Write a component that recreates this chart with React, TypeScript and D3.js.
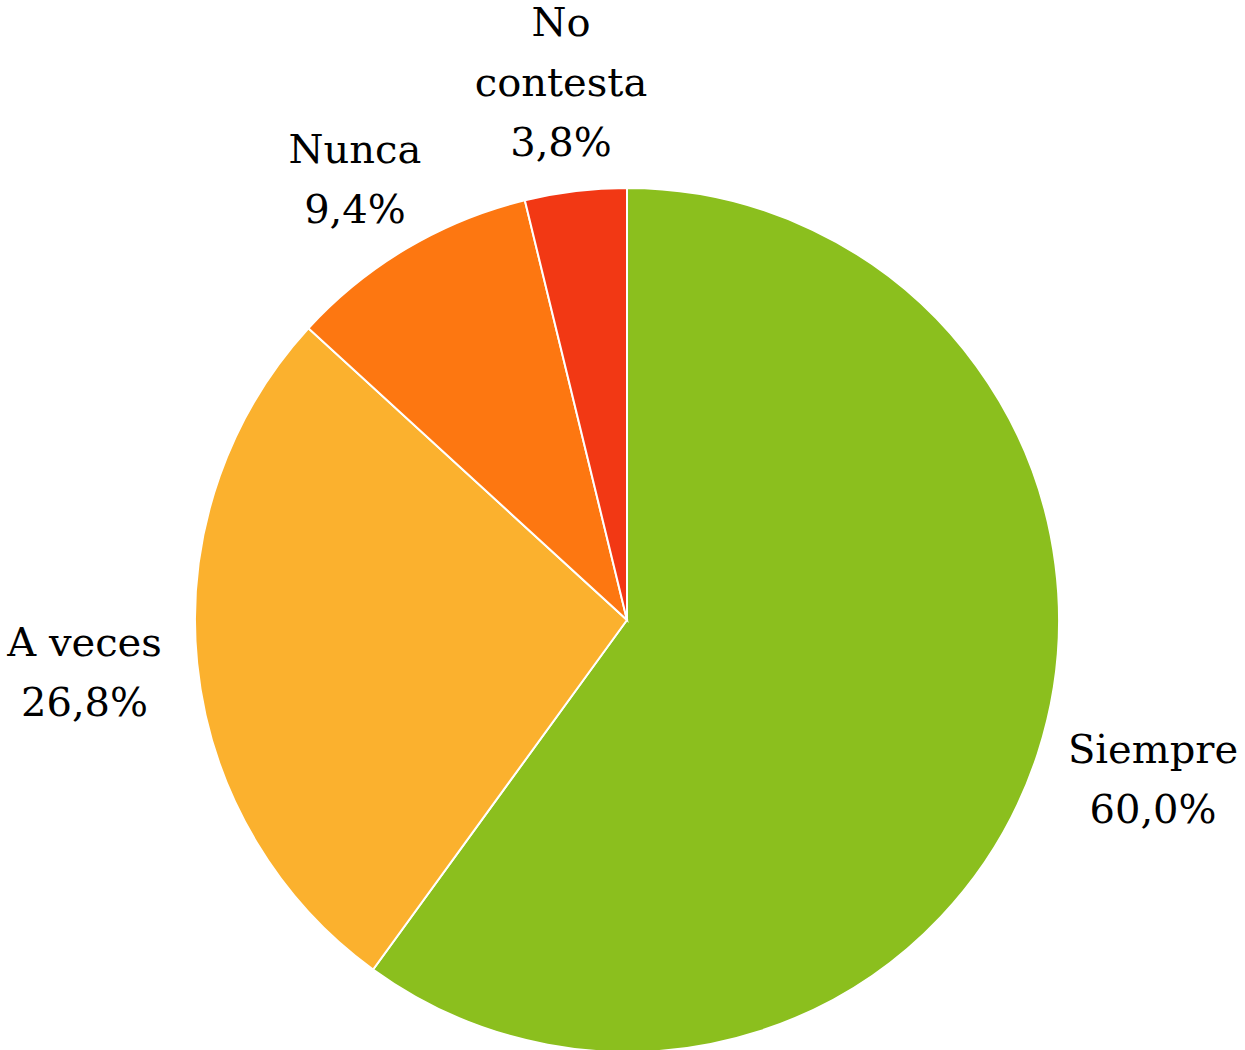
import React from "react";
import * as d3 from "d3";

// Categories and their shares (%), clockwise from 12 o'clock
const categories = ["Siempre", "A veces", "Nunca", "No contesta"];
const values = [60.0, 26.8, 9.4, 3.8];
const colors = ["#8BBF1E", "#FBB12E", "#FD7711", "#F23814"];

const width = 1245;
const height = 1050;
const cx = 627;
const cy = 620;
const radius = 432;
const labelGap = 36; // distance between pie edge and label box
const fontSize = 40;
const font = `${fontSize}px "DejaVu Serif"`;
const lineGap = 60;
const capHeight = 29;

const fmt = (v: number) => v.toFixed(1).replace(".", ",") + "%";

// long names wrap onto two lines, like the original
const wrap = (name: string) => (name.length > 8 ? name.split(" ") : [name]);

// text width via canvas, so the label box can sit just outside the pie
const ctx = document.createElement("canvas").getContext("2d");
const textWidth = (t: string) => {
  if (!ctx) return t.length * fontSize * 0.6;
  ctx.font = font;
  return ctx.measureText(t).width;
};

const App = () => {
  const pie = d3
    .pie<number>()
    .value((d) => d)
    .sort(null)
    .startAngle(0)
    .endAngle(Math.PI * 2);

  const arcs = pie(values);
  const arc = d3.arc<d3.PieArcDatum<number>>().innerRadius(0).outerRadius(radius);
  const anchorArc = d3
    .arc<d3.PieArcDatum<number>>()
    .innerRadius(radius + labelGap)
    .outerRadius(radius + labelGap);

  return (
    <svg
      width={width}
      height={height}
      style={{ position: "absolute", left: 0, top: 0, background: "#fff" }}
    >
      <g transform={`translate(${cx},${cy})`}>
        {arcs.map((a, i) => (
          <path key={categories[i]} d={arc(a) || ""} fill={colors[i]} stroke="#fff" strokeWidth={2} />
        ))}
        {arcs.map((a, i) => {
          const mid = (a.startAngle + a.endAngle) / 2;
          const [px, py] = anchorArc.centroid(a);
          const lines = [...wrap(categories[i]), fmt(values[i])];
          const w = d3.max(lines, textWidth) || 0;
          const h = capHeight + (lines.length - 1) * lineGap;
          // push the box outward so its near edge touches the anchor point
          const lx = px + (Math.sin(mid) * w) / 2;
          const ly = py - (Math.cos(mid) * h) / 2;
          const first = ly - h / 2 + capHeight;
          return (
            <text
              key={"l" + i}
              x={lx}
              y={first}
              textAnchor="middle"
              fontFamily="DejaVu Serif"
              fontSize={fontSize}
              fill="#000"
            >
              {lines.map((t, j) => (
                <tspan key={j} x={lx} y={first + j * lineGap}>
                  {t}
                </tspan>
              ))}
            </text>
          );
        })}
      </g>
    </svg>
  );
};

export default App;
